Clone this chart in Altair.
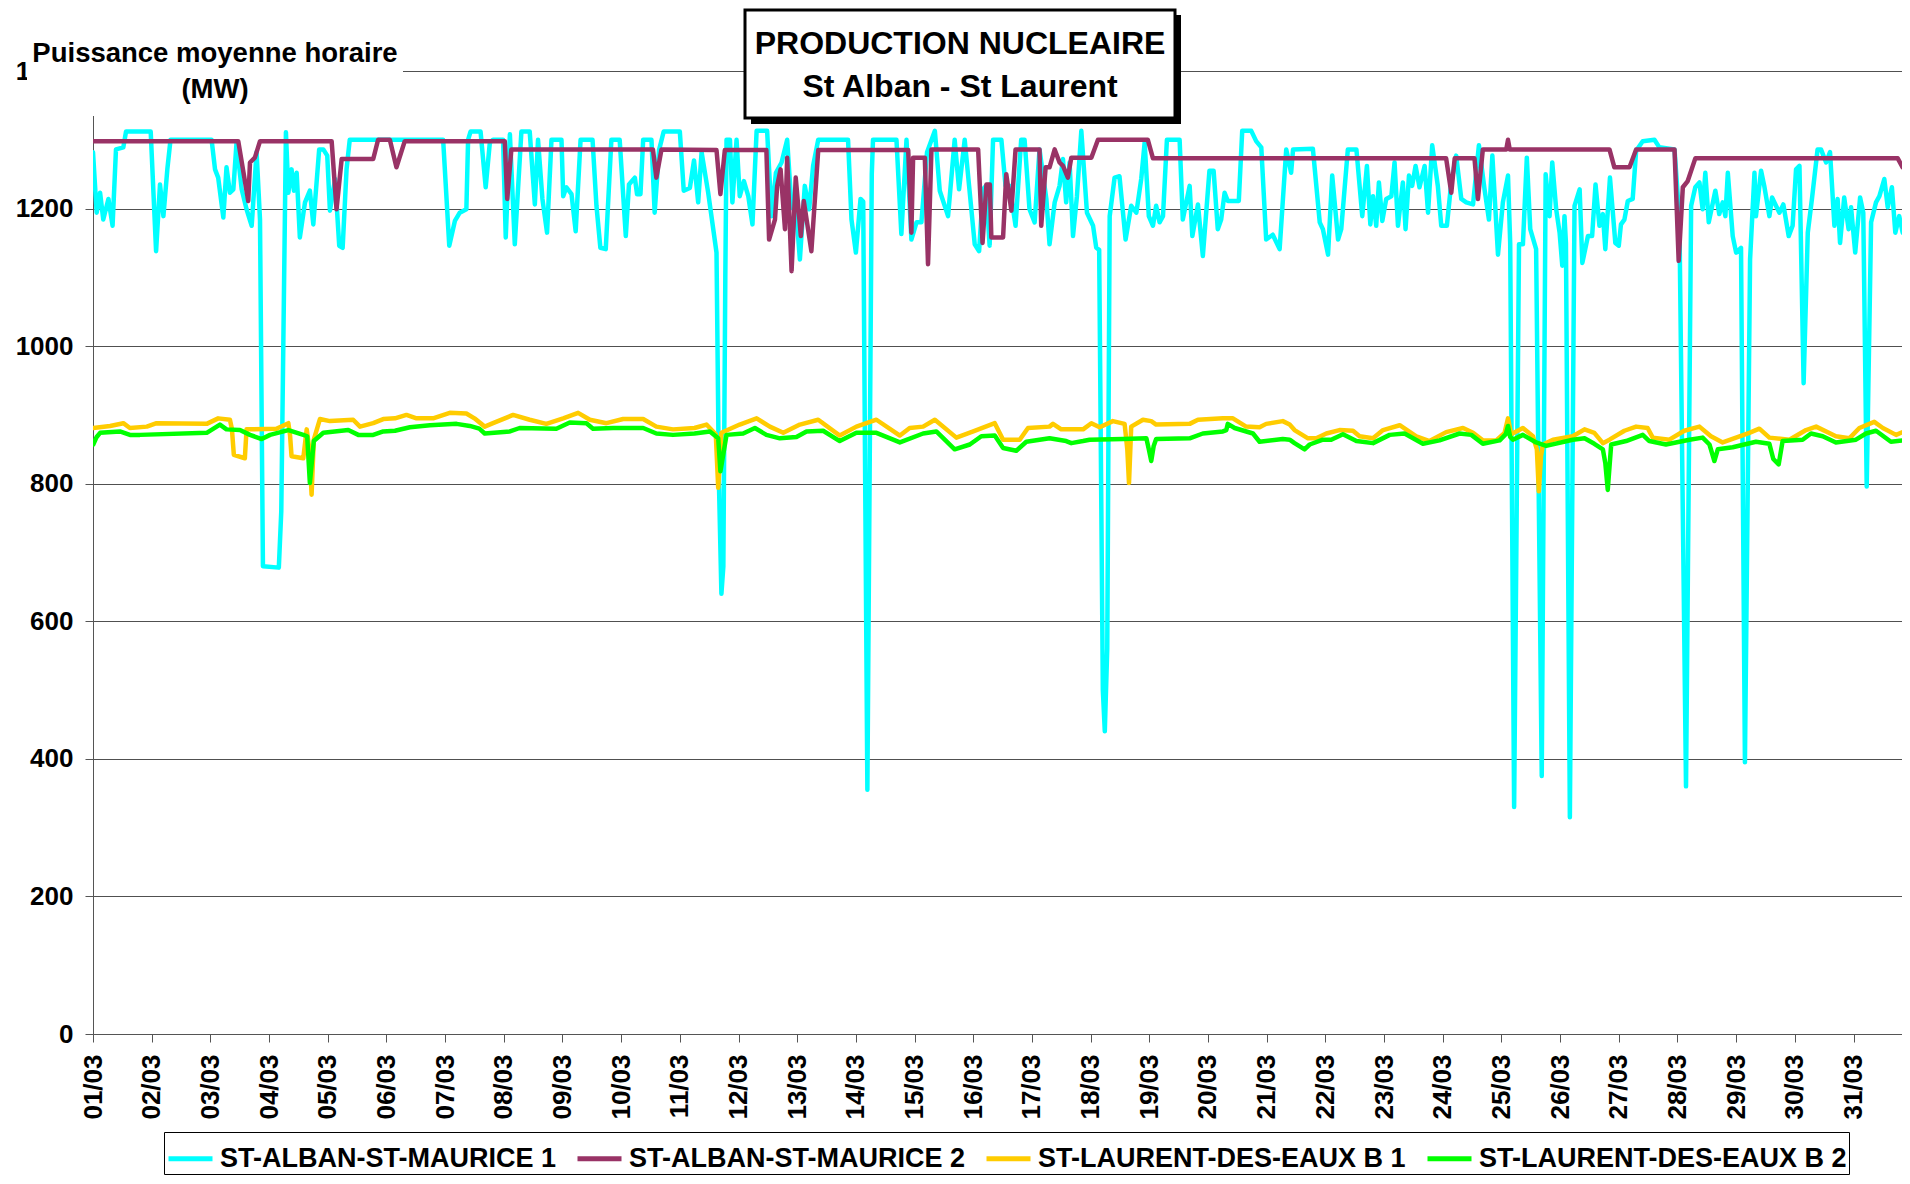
import altair as alt
import pandas as pd

FONT = "Liberation Sans"

SERIES = ["ST-ALBAN-ST-MAURICE 1", "ST-ALBAN-ST-MAURICE 2",
          "ST-LAURENT-DES-EAUX B 1", "ST-LAURENT-DES-EAUX B 2"]
COLORS = ["#00FFFF", "#993366", "#FFCC00", "#00FF00"]

DAY_HOURS = [24 * i for i in range(31)]
DAY_LABELS = ["%02d/03" % (i + 1) for i in range(31)]
Y_TICKS = [0, 200, 400, 600, 800, 1000, 1200, 1400]

TITLE_1 = "PRODUCTION NUCLEAIRE"
TITLE_2 = "St Alban - St Laurent"
YTITLE_1 = "Puissance moyenne horaire"
YTITLE_2 = "(MW)"

# ---- ST-ALBAN-ST-MAURICE 1 (hour of month, MW)
a1_h = [0.0, 1.5, 2.9, 4.2, 6.3, 8.0, 9.4, 12.4, 13.5, 23.6, 25.8, 27.4, 28.8, 30.4, 31.7,
        48.5, 49.9, 51.2, 53.3, 54.6, 56.0, 57.4, 58.7, 60.8, 62.8, 64.9, 66.9, 68.3, 69.5,
        76.0, 77.0, 78.9, 79.9, 81.2, 82.2, 83.3, 84.6, 86.7, 88.7, 90.1, 92.5, 94.2, 95.8,
        96.9, 99.0, 100.7, 102.1, 103.7, 105.0, 143.2, 145.7, 148.0, 150.0, 152.7, 153.4,
        154.4, 158.5, 160.6, 162.3, 163.6, 167.7, 168.8, 170.5, 172.5, 175.2, 178.6, 180.7,
        182.0, 183.8, 185.7, 187.5, 191.6, 192.3, 193.6, 195.7, 197.4, 199.4, 204.3, 205.9,
        207.5, 209.7, 212.0, 215.4, 217.9, 219.2, 221.6, 222.5, 223.9, 225.0, 228.4, 229.7,
        231.5, 233.4, 240.0, 241.6, 244.1, 245.8, 247.5, 248.9, 251.6, 255.0, 256.0, 257.0,
        257.8, 258.6, 259.1, 260.5, 261.5, 263.2, 264.5, 266.2, 268.0, 269.7, 271.4, 275.7,
        277.5, 279.3, 281.6, 283.9, 285.7, 287.4, 289.1, 291.1, 292.9, 294.5, 296.6, 308.8,
        310.2, 312.0, 313.9, 315.0, 316.7, 318.5, 319.0, 328.6, 330.6, 332.7, 334.7, 336.8,
        338.8, 341.1, 344.3, 346.3, 349.7, 352.4, 354.2, 356.5, 358.3, 360.6, 362.4, 364.0,
        365.2, 366.7, 368.1, 371.5, 373.2, 374.9, 377.3, 379.6, 381.0, 383.0, 385.1, 387.1,
        389.9, 391.2, 393.3, 395.3, 396.7, 398.0, 399.4, 400.8, 402.4, 404.2, 406.5, 409.0,
        410.3, 411.5, 413.0, 413.8, 414.8, 415.8, 417.8, 419.8, 422.3, 424.6, 426.7, 428.7,
        430.1, 431.8, 433.5, 434.8, 436.2, 437.6, 439.2, 444.4, 445.7, 448.5, 449.6, 451.9,
        453.9, 456.6, 458.3, 460.0, 461.4, 462.8, 464.1, 468.6, 470.0, 473.7, 475.7, 477.8,
        479.8, 482.5, 485.3, 488.0, 490.0, 490.8, 498.9, 501.7, 503.0, 505.1, 506.8, 509.2,
        510.5, 513.2, 516.7, 519.1, 521.0, 522.4, 523.5, 524.8, 525.9, 527.3, 528.9, 531.0,
        532.3, 533.7, 535.7, 536.8, 538.2, 539.5, 540.9, 542.5, 544.6, 546.0, 547.7, 550.0,
        551.4, 553.7, 555.5, 557.5, 559.6, 561.6, 564.4, 566.8, 569.1, 570.9, 572.3, 574.6,
        576.6, 578.7, 579.6, 581.2, 583.2, 584.8, 586.4, 587.8, 590.2, 592.5, 594.1, 595.7,
        596.8, 598.4, 599.8, 600.9, 601.8, 602.4, 604.0, 605.9, 608.0, 609.1, 611.4, 613.1,
        614.5, 616.1, 617.5, 618.5, 620.4, 622.6, 624.0, 624.9, 626.3, 627.7, 629.7, 631.1,
        633.8, 638.6, 640.6, 646.8, 648.8, 651.5, 653.6, 655.3, 657.0, 658.3, 659.4, 660.8,
        663.5, 665.1, 666.5, 667.6, 668.6, 670.6, 672.0, 674.0, 675.6, 677.7, 679.5, 680.1,
        682.2, 683.5, 685.6, 686.7, 688.3, 689.7, 691.3, 693.5, 695.1, 696.5, 697.9, 699.6,
        701.3, 703.0, 705.3, 706.7, 708.8, 710.4, 712.2, 713.5, 714.5, 716.2, 718.0, 719.0,
        720.7, 722.7, 724.0, 725.4, 727.2, 729.2, 730.6, 732.6, 734.0, 735.7, 737.1, 738.7,
        740.1, 742.1]
a1_v = [1282, 1194, 1223, 1184, 1214, 1175, 1286, 1289, 1312, 1312, 1138, 1235, 1189, 1257, 1300,
        1300, 1257, 1245, 1187, 1260, 1223, 1228, 1296, 1228, 1199, 1175, 1282, 1184, 680,
        678, 760, 1311, 1223, 1257, 1226, 1252, 1158, 1209, 1226, 1177, 1286, 1286, 1277,
        1197, 1243, 1146, 1143, 1257, 1300, 1300, 1146, 1182, 1194, 1199, 1300,
        1312, 1312, 1231, 1296, 1300, 1300, 1158, 1308, 1148, 1312, 1312, 1206,
        1300, 1214, 1165, 1300, 1300, 1218, 1231, 1221, 1167, 1300, 1300, 1204,
        1143, 1141, 1300, 1300, 1160, 1235, 1245, 1221, 1221, 1300, 1300, 1194,
        1285, 1312, 1312, 1226, 1230, 1270, 1209, 1282, 1223, 1136, 800, 640,
        680, 1100, 1300, 1300, 1209, 1300, 1218, 1240, 1218, 1177, 1313, 1313,
        1189, 1252, 1267, 1300, 1201, 1204, 1126, 1233, 1199, 1262, 1300, 1300,
        1184, 1136, 1214, 1210, 355, 1250, 1300, 1300, 1163, 1300, 1155, 1180,
        1180, 1282, 1313, 1226, 1189, 1300, 1228, 1300, 1233, 1148, 1138, 1228,
        1233, 1146, 1300, 1300, 1233, 1233, 1175, 1300, 1300, 1199, 1180, 1286,
        1214, 1148, 1209, 1233, 1272, 1209, 1267, 1160, 1218, 1313, 1194, 1175,
        1143, 1140, 500, 440, 560, 1189, 1245, 1247, 1155, 1204, 1194, 1243,
        1296, 1189, 1175, 1204, 1180, 1189, 1300, 1300, 1184, 1233, 1160, 1206,
        1131, 1255, 1255, 1170, 1184, 1223, 1211, 1211, 1313, 1313, 1298, 1289,
        1155, 1162, 1141, 1286, 1252, 1286, 1287, 1180, 1170, 1133, 1248, 1155,
        1170, 1286, 1286, 1189, 1262, 1177, 1218, 1175, 1238, 1182, 1214, 1218,
        1267, 1175, 1238, 1170, 1248, 1233, 1262, 1231, 1262, 1194, 1292, 1233,
        1175, 1175, 1238, 1277, 1214, 1209, 1206, 1292, 1228, 1184, 1277, 1133,
        1209, 1248, 1150, 330, 1148, 1148, 1274, 1170, 1141, 375, 1250, 1189,
        1267, 1199, 1165, 1117, 1189, 1150, 315, 1204, 1228, 1121, 1160, 1160,
        1235, 1175, 1192, 1141, 1245, 1150, 1146, 1177, 1184, 1211, 1214, 1284,
        1298, 1300, 1289, 1286, 1184, 360, 1204, 1231, 1238, 1199, 1252, 1180,
        1226, 1192, 1209, 1189, 1252, 1160, 1136, 1143, 395, 1126, 1252, 1189,
        1255, 1233, 1189, 1216, 1204, 1194, 1206, 1160, 1175, 1257, 1262, 946,
        1165, 1214, 1286, 1286, 1267, 1282, 1175, 1214, 1150, 1216, 1170, 1202,
        1136, 1216, 1194, 796, 1180, 1209, 1218, 1243, 1202, 1231, 1165, 1189,
        1165, 1218]

# ---- ST-ALBAN-ST-MAURICE 2
a2_h = [0, 59.4, 63.5, 64.2, 66.2, 68.3, 97.6, 99.6, 101.7, 114.6, 116.6, 121.4, 124.1, 127.5,
        168.4, 169.4, 171.1, 229.0, 230.4, 232.5, 255.0, 256.6, 258.4, 275.4, 276.5, 278.9,
        279.8, 281.2, 283.0, 283.9, 285.7, 287.4, 289.5, 290.7, 293.8, 296.6, 333.4, 334.7,
        335.4, 340.2, 341.5, 342.9, 362.0, 363.8, 365.4, 366.8, 367.4, 372.2, 373.5, 375.6,
        377.3, 387.1, 387.8, 389.6, 391.2, 393.3, 395.3, 396.7, 398.7, 400.1, 408.3, 411.0,
        431.4, 433.5, 553.4, 555.5, 556.9, 565.0, 566.4, 568.4, 578.0, 578.7, 579.4, 620.2,
        622.2, 628.4, 631.1, 646.8, 648.5, 650.2, 652.2, 655.3, 738.1, 740.1, 743.0]
a2_v = [1298, 1298, 1211, 1267, 1274, 1298, 1298, 1199, 1272, 1272, 1300, 1300, 1260, 1298,
        1298, 1214, 1286, 1286, 1245, 1286, 1285, 1221, 1285, 1285, 1155, 1184,
        1233, 1257, 1170, 1274, 1109, 1245, 1160, 1211, 1138, 1285, 1285, 1165,
        1274, 1274, 1119, 1286, 1286, 1150, 1235, 1235, 1158, 1158, 1250, 1197,
        1286, 1286, 1175, 1260, 1260, 1286, 1267, 1262, 1245, 1274, 1274, 1300,
        1300, 1273, 1273, 1223, 1273, 1273, 1214, 1286, 1286, 1300, 1286, 1286,
        1260, 1260, 1286, 1286, 1124, 1231, 1240, 1273, 1273, 1260, 1260]

# ---- ST-LAURENT-DES-EAUX B 1
b1_h = [0.1, 7, 12.4, 15.1, 22, 26, 46.5, 51.2, 56, 56.8, 57.6, 62.1, 62.8, 75, 79.9, 80.6, 81.2,
        86, 87.4, 88.5, 89.4, 90.3, 92.8, 96.9, 106.4, 109.2, 114.6, 118.7, 123.5, 128.2, 132.3,
        139.1, 145.9, 152.7, 156, 160.2, 163.6, 171.8, 178.6, 185.4, 192.3, 198.4, 203.2, 210,
        216.8, 225, 230.4, 237.2, 246, 250.9, 254.7, 255.7, 257, 264.5, 271.4, 276.8, 282.3,
        289.1, 296.6, 305.4, 312.2, 320.4, 330, 334, 339.5, 344.3, 353.1, 360, 368.8, 372.2,
        379, 382.4, 391.2, 392.6, 396, 404.9, 408.3, 411.7, 417.1, 421.9, 423, 423.7, 424.6,
        429.4, 432.8, 434.8, 448.5, 451.9, 462.1, 466.2, 471.6, 477.1, 479.8, 486.6, 489.4,
        491.4, 496.9, 500.3, 504.4, 509.8, 515.3, 518, 523.5, 527.6, 534.4, 541.2, 546.6,
        553.4, 560.3, 564.4, 568.4, 573.9, 577.3, 578.7, 580, 584.8, 588.9, 590.5, 591.3,
        592.2, 593, 597.1, 605.2, 610, 614, 617.5, 620.2, 626.3, 631.1, 635.8, 637.9, 644.7,
        650.8, 657, 661.7, 666.5, 677.4, 681.5, 685.6, 693.8, 700.6, 704.7, 712.8, 718.3,
        722.4, 728.5, 732, 737.4, 742.1]
b1_v = [881, 884, 888, 881, 883, 888, 887, 895, 893, 880, 842, 837, 879, 880, 888, 870, 840,
        837, 879, 850, 784, 864, 894, 891, 893, 883, 888, 894, 895, 900, 895,
        895, 903, 902, 895, 883, 888, 900, 893, 887, 895, 903, 893, 888,
        894, 894, 883, 879, 881, 886, 872, 794, 874, 886, 895, 883, 874,
        886, 893, 870, 883, 893, 870, 881, 883, 893, 867, 876, 888, 864,
        864, 881, 883, 887, 879, 879, 888, 882, 891, 887, 850, 801, 883,
        893, 891, 886, 887, 893, 895, 895, 883, 882, 887, 891, 886,
        878, 866, 866, 873, 878, 877, 869, 866, 878, 885, 869, 862,
        875, 881, 874, 863, 863, 874, 895, 872, 881, 869, 850, 789,
        840, 857, 864, 869, 879, 874, 859, 864, 877, 883, 881, 867, 864,
        877, 883, 869, 860, 874, 880, 867, 864, 878, 883, 869, 866,
        881, 890, 881, 871, 878]

# ---- ST-LAURENT-DES-EAUX B 2
b2_h = [0.1, 1.5, 2.9, 11, 15.1, 19.2, 46.5, 51.9, 54.6, 60.1, 64.2, 69, 72.4, 79.9, 86, 87.6,
        88.7, 90.3, 94.2, 104.4, 108.5, 114.6, 118.7, 123.5, 129.6, 137.8, 148.7, 154.1, 158,
        160.2, 170.5, 174.5, 189.5, 195, 201.8, 204.5, 212.7, 225, 230.4, 237.2, 246, 252.3,
        255.7, 256.6, 259.1, 265.9, 270.7, 275.4, 280.9, 287.7, 291.8, 298.6, 305.4, 312.2,
        320.4, 330, 339.5, 344.9, 352.4, 358.6, 363.3, 368.8, 372.2, 377.6, 381.7, 391.2, 398,
        400.1, 404.9, 407.6, 421.2, 430.8, 431.8, 432.8, 433.8, 434.8, 448.5, 453.9, 462.1,
        463.5, 464.1, 466.9, 474.4, 477.1, 486.6, 489.4, 491.4, 495.5, 497.6, 503, 506.4,
        511.2, 516.7, 523.5, 530.3, 536.4, 543.9, 550.7, 558.9, 563.7, 568.4, 575.3, 577.8,
        578.7, 579.6, 580.7, 584.8, 590.2, 594.3, 605.2, 610, 614, 617.5, 618.5, 619.5, 620.9,
        627, 633.8, 636.5, 643.3, 652.9, 658.3, 661.1, 663.1, 664.5, 670.6, 680.1, 685.6,
        687.2, 689.4, 691, 699.2, 702.6, 707.4, 712.8, 721, 725.1, 729.2, 735.3, 742.8]
b2_v = [857, 868, 874, 876, 871, 871, 874, 886, 879, 878, 871, 865, 871, 878, 871, 869,
        801, 862, 874, 878, 871, 871, 876, 877, 882, 885, 887, 884, 880,
        873, 876, 881, 880, 889, 888, 880, 881, 881, 873, 871, 873, 876,
        866, 818, 871, 873, 881, 871, 866, 868, 876, 877, 862, 874,
        874, 860, 873, 876, 850, 857, 869, 870, 852, 848, 861, 866, 862,
        859, 862, 864, 865, 866, 850, 833, 855, 865, 866, 873, 876,
        878, 887, 881, 873, 861, 865, 864, 859, 850, 857, 864, 864,
        872, 862, 859, 871, 873, 858, 863, 873, 871, 858, 863, 872,
        884, 868, 864, 871, 860, 855, 864, 866, 858, 850, 830, 791, 857,
        862, 871, 862, 857, 864, 867, 857, 833, 850, 853, 861, 858,
        836, 828, 862, 864, 873, 869, 860, 864, 873, 877, 861, 864]

rows = []
for name, hs, vs in zip(SERIES, [a1_h, a2_h, b1_h, b2_h], [a1_v, a2_v, b1_v, b2_v]):
    for h, v in zip(hs, vs):
        rows.append({"serie": name, "h": h, "mw": v})
df = pd.DataFrame(rows)

W, H = 1809, 963
XMAX = W / (1760.5 / 720.0)

label_expr = "[" + ",".join("'%s'" % s for s in DAY_LABELS) + "][round(datum.value/24)]"

x_enc = alt.X("h:Q", title=None,
              scale=alt.Scale(domain=[0, XMAX], nice=False, zero=False),
              axis=alt.Axis(values=DAY_HOURS, labelExpr=label_expr, labelAngle=270,
                            labelFontSize=26, labelFont=FONT, labelFontWeight="bold",
                            labelColor="black", tickSize=8, labelPadding=12,
                            tickColor="#555555", domainColor="#555555", grid=False,
                            labelOverlap=False))
y_enc = alt.Y("mw:Q", title=None,
              scale=alt.Scale(domain=[0, 1400], nice=False),
              axis=alt.Axis(values=Y_TICKS, format="d", labelFontSize=26, labelFont=FONT,
                            labelFontWeight="bold", labelColor="black", tickSize=8,
                            labelPadding=12, tickColor="#555555", domainColor="#555555",
                            grid=True, gridColor="#505050", gridWidth=1))
color_enc = alt.Color("serie:N",
                      scale=alt.Scale(domain=SERIES, range=COLORS),
                      legend=alt.Legend(orient="none", legendX=71, legendY=1061,
                                        direction="horizontal", columns=4, title=None,
                                        symbolType="stroke", symbolSize=1936,
                                        symbolStrokeWidth=5, labelFont=FONT,
                                        labelFontSize=27, labelFontWeight="bold",
                                        labelColor="black", labelLimit=0, labelOffset=5,
                                        columnPadding=11, padding=2, strokeColor="black",
                                        fillColor="white"))

base = alt.Chart(df)
line_layers = []
for name in SERIES:
    line_layers.append(
        base.transform_filter(alt.datum.serie == name)
        .mark_line(strokeWidth=4.5, strokeJoin="round", strokeCap="round", clip=True)
        .encode(x=x_enc, y=y_enc, color=color_enc)
    )

one = pd.DataFrame({"k": [0]})


def box(x1, x2, y1, y2, fill, stroke=None, sw=0):
    kw = {"fill": fill}
    if stroke:
        kw.update(stroke=stroke, strokeWidth=sw)
    return alt.Chart(one).mark_rect(**kw).encode(
        x=alt.value(x1), x2=alt.value(x2), y=alt.value(y1), y2=alt.value(y2))


def label(txt, x, y, size):
    return alt.Chart(pd.DataFrame({"t": [txt]})).mark_text(
        font=FONT, fontSize=size, fontWeight="bold", color="black",
        align="center", baseline="middle").encode(
        x=alt.value(x), y=alt.value(y), text="t:N")


deco = [
    box(-66, 310, -42, 45, "white"),
    label(YTITLE_1, 122, -17, 27.5),
    label(YTITLE_2, 122, 19, 27.5),
    box(658, 1088, -56, 53, "black"),
    box(652, 1082, -61, 47, "white", "black", 3),
    label(TITLE_1, 867, -27, 32),
    label(TITLE_2, 867, 16, 32),
]

chart = alt.layer(*line_layers, *deco).properties(
    width=W, height=H,
    autosize=alt.AutoSizeParams(type="none"),
    padding={"left": 85, "top": 63, "right": 0, "bottom": 142},
).configure_view(stroke=None).configure(background="white")

chart.save("out.html", embed_options={"renderer": "svg", "actions": False})
